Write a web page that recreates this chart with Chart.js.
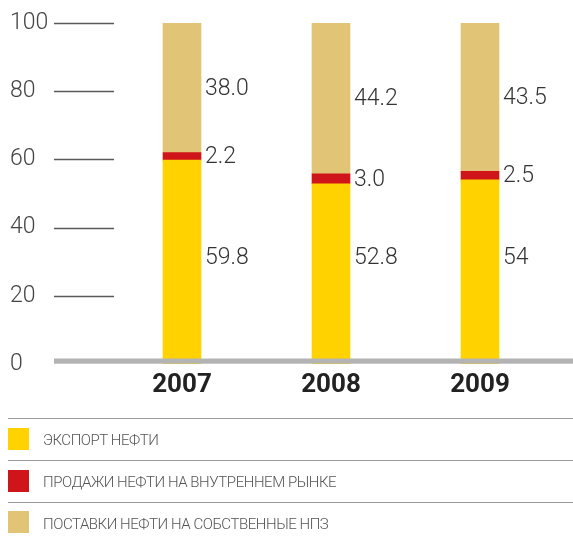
<!DOCTYPE html>
<html>
<head>
<meta charset="utf-8">
<script src="https://cdn.jsdelivr.net/npm/chart.js@4.4.1/dist/chart.umd.min.js"></script>
<style>
  html, body { margin: 0; padding: 0; background: #fff; }
  #wrap { position: relative; width: 573px; height: 538px; overflow: hidden; }
  #c { position: absolute; left: 0; top: 0; }
  .rule { position: absolute; left: 8px; width: 565px; height: 0; border-top: 1.5px solid #9a9a9a; }
  .sw { position: absolute; left: 8px; width: 21px; height: 22px; }
  .lt { position: absolute; left: 43px; font-family: Roboto, "Liberation Sans", sans-serif; font-weight: 300;
        font-size: 15px; color: #555; line-height: 18px; white-space: nowrap; letter-spacing: -0.45px; }
</style>
</head>
<body>
<div id="wrap">
  <canvas id="c" width="573" height="538"></canvas>
  <div class="rule" style="top:418px"></div>
  <div class="sw" style="top:428px;background:#FFD200"></div>
  <div class="lt" style="top:431px">ЭКСПОРТ НЕФТИ</div>
  <div class="rule" style="top:460px"></div>
  <div class="sw" style="top:470px;background:#CF151A"></div>
  <div class="lt" style="top:473px">ПРОДАЖИ НЕФТИ НА ВНУТРЕННЕМ РЫНКЕ</div>
  <div class="rule" style="top:502px"></div>
  <div class="sw" style="top:511px;background:#E2C476"></div>
  <div class="lt" style="top:515px">ПОСТАВКИ НЕФТИ НА СОБСТВЕННЫЕ НПЗ</div>
</div>
<script>
const years = ["2007", "2008", "2009"];
const exportOil = [59.8, 52.8, 54];
const domesticSales = [2.2, 3.0, 2.5];
const ownRefineries = [38.0, 44.2, 43.5];
const exportLabels = ["59.8", "52.8", "54"];
const domesticLabels = ["2.2", "3.0", "2.5"];
const refineryLabels = ["38.0", "44.2", "43.5"];
const yTicks = [0, 20, 40, 60, 80, 100];
const seriesNames = ["ЭКСПОРТ НЕФТИ", "ПРОДАЖИ НЕФТИ НА ВНУТРЕННЕМ РЫНКЕ", "ПОСТАВКИ НЕФТИ НА СОБСТВЕННЫЕ НПЗ"];

const colors = ["#FFD200", "#CF151A", "#E2C476"];
const labelSets = [exportLabels, domesticLabels, refineryLabels];

const decor = {
  id: 'decor',
  beforeDatasetsDraw(chart) {
    const ctx = chart.ctx;
    const y = chart.scales.y;
    ctx.save();
    ctx.strokeStyle = '#5a5a5a';
    ctx.lineWidth = 1.3;
    yTicks.forEach(v => {
      if (v === 0) return;
      const py = Math.round(y.getPixelForValue(v)) + 0.5;
      ctx.beginPath();
      ctx.moveTo(54, py);
      ctx.lineTo(114, py);
      ctx.stroke();
    });
    ctx.restore();
  },
  afterDatasetsDraw(chart, args, opts) {
    const ctx = chart.ctx;
    const y = chart.scales.y;
    const base = y.getPixelForValue(0);
    ctx.save();
    ctx.fillStyle = '#b3b3b3';
    ctx.fillRect(54, base - 5.5, 573 - 54, 5.2);
    ctx.font = '300 23px Roboto, "Liberation Sans", sans-serif';
    ctx.fillStyle = '#333';
    ctx.textAlign = 'left';
    ctx.textBaseline = 'middle';
    chart.data.datasets.forEach((ds, di) => {
      const meta = chart.getDatasetMeta(di);
      meta.data.forEach((bar, i) => {
        const p = bar.getProps(['x', 'y', 'base', 'width'], true);
        // bottom-segment labels sit on a common baseline level; others centred in their segment
        const cy = di === 0 ? y.getPixelForValue(opts.bottomLabelLevel) : (p.y + p.base) / 2;
        ctx.fillText(labelSets[di][i], p.x + p.width / 2 + 4, cy + 1);
      });
    });
    ctx.restore();
  }
};

new Chart(document.getElementById('c'), {
  type: 'bar',
  data: {
    labels: years,
    datasets: [
      { label: seriesNames[0], data: exportOil, backgroundColor: colors[0] },
      { label: seriesNames[1], data: domesticSales, backgroundColor: colors[1] },
      { label: seriesNames[2], data: ownRefineries, backgroundColor: colors[2] }
    ]
  },
  options: {
    responsive: false,
    animation: false,
    events: [],
    layout: { padding: { top: 23, left: 10, right: 18.5, bottom: 134 } },
    plugins: { legend: { display: false }, tooltip: { enabled: false }, decor: { bottomLabelLevel: 31.2 } },
    datasets: { bar: { barThickness: 38, borderWidth: 0 } },
    scales: {
      x: {
        stacked: true,
        grid: { display: false, drawTicks: false },
        border: { display: false },
        ticks: { color: '#222', font: { family: 'Roboto, "Liberation Sans", sans-serif', size: 26, weight: 'bold' }, padding: 6 },
        afterFit(s) { s.height = 40; }
      },
      y: {
        stacked: true,
        min: 0, max: 100,
        grid: { display: false, drawTicks: false },
        border: { display: false },
        afterBuildTicks(s) { s.ticks = yTicks.map(v => ({ value: v })); },
        ticks: { color: '#444', crossAlign: 'far', padding: 0,
                 font: { family: 'Roboto, "Liberation Sans", sans-serif', size: 23, weight: 300 } },
        afterFit(s) { s.width = 97.5; }
      }
    }
  },
  plugins: [decor]
});
</script>
</body>
</html>
